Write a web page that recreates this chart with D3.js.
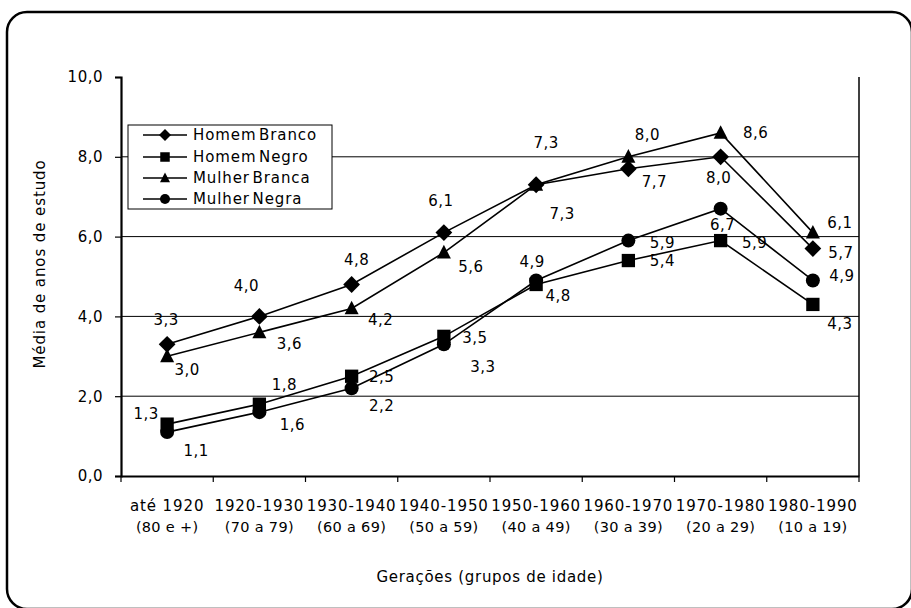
<!DOCTYPE html>
<html>
<head>
<meta charset="utf-8">
<script src="https://cdn.jsdelivr.net/npm/d3@7"></script>
<style>
html,body{margin:0;padding:0;background:#fff;}
svg{display:block;}
text{font-family:"DejaVu Sans",Verdana,sans-serif;fill:#000;}
</style>
</head>
<body>
<svg id="chart" width="911" height="608"></svg>
<script>
// ---- data ----
const categories = ["até 1920","1920-1930","1930-1940","1940-1950","1950-1960","1960-1970","1970-1980","1980-1990"];
const categoryAges = ["(80 e +)","(70 a 79)","(60 a 69)","(50 a 59)","(40 a 49)","(30 a 39)","(20 a 29)","(10 a 19)"];
const seriesNames = ["Homem Branco","Homem Negro","Mulher Branca","Mulher Negra"];
const homemBranco  = [3.3, 4.0, 4.8, 6.1, 7.3, 7.7, 8.0, 5.7];
const homemNegro   = [1.3, 1.8, 2.5, 3.5, 4.8, 5.4, 5.9, 4.3];
const mulherBranca = [3.0, 3.6, 4.2, 5.6, 7.3, 8.0, 8.6, 6.1];
const mulherNegra  = [1.1, 1.6, 2.2, 3.3, 4.9, 5.9, 6.7, 4.9];
const yTicks = [0, 2, 4, 6, 8, 10];
const yTitle = "Média de anos de estudo";
const xTitle = "Gerações (grupos de idade)";

// ---- layout (label offsets from each point) ----
const hbOff = [[-1,-24],[-13,-30],[5,-24],[-3,-32],[10,-42],[26,13],[-2,21],[28,4]];
const hnOff = [[-21,-10],[25,-19],[30,1],[31,2],[22,12],[34,0],[34,2],[27,20]];
const mbOff = [[20,14],[30,12],[29,12],[27,14],[26,29],[19,-22],[35,0],[27,-10]];
const mnOff = [[29,19],[33,13],[30,18],[39,23],[-4,-18],[34,2],[2,16],[29,-4]];

const series = [
  {name: seriesNames[0], values: homemBranco, shape: "diamond", off: hbOff},
  {name: seriesNames[1], values: homemNegro, shape: "square", off: hnOff},
  {name: seriesNames[2], values: mulherBranca, shape: "triangle", off: mbOff},
  {name: seriesNames[3], values: mulherNegra, shape: "circle", off: mnOff}
];

const svg = d3.select("#chart");

// outer rounded frame
svg.append("rect").attr("x",7).attr("y",12).attr("width",905).attr("height",597)
  .attr("rx",20).attr("fill","none").attr("stroke","#000").attr("stroke-width",2.5);

const pL = 121, pR = 859, pT = 77, pB = 476;
const x = d3.scaleBand().domain(categories).range([pL, pR]);
const y = d3.scaleLinear().domain([0, 10]).range([pB, pT]);
const cx = c => x(c) + x.bandwidth()/2;

// gridlines
svg.append("g").selectAll("line").data(yTicks.filter(t => t > 0 && t < 10)).join("line")
  .attr("x1", pL).attr("x2", pR).attr("y1", d => y(d)).attr("y2", d => y(d))
  .attr("stroke","#000").attr("stroke-width",1);

// right border of plot area
svg.append("line").attr("x1",pR).attr("x2",pR).attr("y1",y(10)).attr("y2",pB)
  .attr("stroke","#000").attr("stroke-width",1.5);

// y axis
const fmt = v => d3.format(".1f")(v).replace(".", ",");
const yAxis = d3.axisLeft(y).tickValues(yTicks).tickFormat(fmt).tickSize(6).tickPadding(12);
const gy = svg.append("g").attr("transform", `translate(${pL},0)`).call(yAxis);
gy.select(".domain").attr("stroke-width",2.2);
gy.selectAll(".tick line").attr("stroke-width",1.2);
gy.selectAll(".tick text").attr("font-size",15).attr("letter-spacing",0.5)
  .attr("font-family","DejaVu Sans, sans-serif").attr("fill","#000");

// x axis
const xAxis = d3.axisBottom(x).tickSize(0).tickFormat("");
const gx = svg.append("g").attr("transform", `translate(0,${pB})`).call(xAxis);
gx.select(".domain").attr("stroke-width",2.2);
// tick marks at band boundaries
svg.append("g").selectAll("line").data(categories.concat(["__end"])).join("line")
  .attr("x1", (d,i) => i < categories.length ? x(d) : pR)
  .attr("x2", (d,i) => i < categories.length ? x(d) : pR)
  .attr("y1", pB).attr("y2", pB + 6)
  .attr("stroke","#000").attr("stroke-width",1.2);

const xl = svg.append("g");
xl.selectAll("text.l1").data(categories).join("text").attr("class","l1")
  .attr("x", d => cx(d)).attr("y", 511).attr("text-anchor","middle")
  .attr("font-size",15).attr("letter-spacing",0.9)
  .text(d => d);
xl.selectAll("text.l2").data(categoryAges).join("text").attr("class","l2")
  .attr("x", (d,i) => cx(categories[i])).attr("y", 532).attr("text-anchor","middle")
  .attr("font-size",14.5).attr("letter-spacing",0.3)
  .text(d => d);

// axis titles
svg.append("text").attr("x", 490).attr("y", 582).attr("text-anchor","middle")
  .attr("font-size",15).attr("letter-spacing",0.7).text(xTitle);
svg.append("text").attr("transform","translate(45,264) rotate(-90)").attr("text-anchor","middle")
  .attr("font-size",15).attr("letter-spacing",0.9).text(yTitle);

// marker symbols
function marker(g, shape, px, py, s) {
  if (shape === "diamond") {
    g.append("path").attr("d", `M${px},${py-s*1.2}L${px+s*1.2},${py}L${px},${py+s*1.2}L${px-s*1.2},${py}Z`);
  } else if (shape === "square") {
    g.append("rect").attr("x", px - s*0.95).attr("y", py - s*0.95).attr("width", 1.9*s).attr("height", 1.9*s);
  } else if (shape === "triangle") {
    g.append("path").attr("d", `M${px},${py-s*1.1}L${px+s*1.0},${py+s*0.85}L${px-s*1.0},${py+s*0.85}Z`);
  } else {
    g.append("circle").attr("cx", px).attr("cy", py).attr("r", s);
  }
}

const line = d3.line().x((d,i) => cx(categories[i])).y(d => y(d));
series.forEach(s => {
  svg.append("path").datum(s.values).attr("d", line)
    .attr("fill","none").attr("stroke","#000").attr("stroke-width",1.6);
});
series.forEach(s => {
  const g = svg.append("g").attr("fill","#000");
  s.values.forEach((v,i) => marker(g, s.shape, cx(categories[i]), y(v), 7));
});
// data labels
series.forEach(s => {
  svg.append("g").selectAll("text").data(s.values).join("text")
    .attr("x", (d,i) => cx(categories[i]) + s.off[i][0])
    .attr("y", (d,i) => y(d) + s.off[i][1])
    .attr("text-anchor","middle").attr("dominant-baseline","central")
    .attr("font-size",15).attr("letter-spacing",0.4).text(d => fmt(d));
});

// legend
const lg = svg.append("g");
lg.append("rect").attr("x",128).attr("y",125).attr("width",204).attr("height",84)
  .attr("fill","#fff").attr("stroke","#000").attr("stroke-width",1);
const legY = [135, 157, 178, 199];
series.forEach((s,i) => {
  lg.append("line").attr("x1",143).attr("x2",187).attr("y1",legY[i]).attr("y2",legY[i])
    .attr("stroke","#000").attr("stroke-width",1.6);
  const mg = lg.append("g").attr("fill","#000");
  marker(mg, s.shape, 165, legY[i], 5);
  lg.append("text").attr("x",193).attr("y",legY[i]).attr("dominant-baseline","central")
    .attr("font-size",15).attr("letter-spacing",0.9).attr("word-spacing",-3).text(s.name);
});
</script>
</body>
</html>
